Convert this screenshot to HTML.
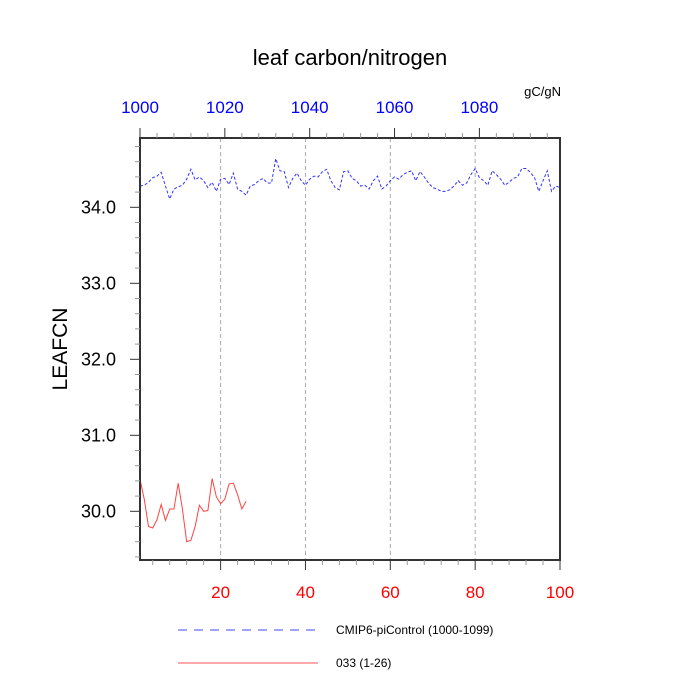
<!DOCTYPE html>
<html><head><meta charset="utf-8"><style>
body{margin:0;background:#fff}
svg{display:block;font-family:"Liberation Sans",sans-serif}
</style></head><body>
<svg id="chart" width="700" height="700">
<text x="350" y="65" text-anchor="middle" font-size="22">leaf carbon/nitrogen</text>
<text x="561" y="96" text-anchor="end" font-size="13">gC/gN</text>
<text x="67" y="349" text-anchor="middle" font-size="21" transform="rotate(-90 67 349)">LEAFCN</text>
<g id="grid"></g><g id="series"></g><g id="axes"></g>
<g>
<line x1="178" y1="630" x2="318" y2="630" stroke="#44f" stroke-dasharray="9,7"/>
<text x="336" y="634" font-size="12">CMIP6-piControl (1000-1099)</text>
<line x1="178" y1="663" x2="318" y2="663" stroke="#f55"/>
<text x="336" y="667" font-size="12">033 (1-26)</text>
</g>
</svg>
<script>
const ctrlValues=[34.28,34.29,34.33,34.39,34.41,34.46,34.28,34.11,34.24,34.27,34.29,34.37,34.50,34.36,34.40,34.35,34.26,34.33,34.21,34.37,34.38,34.30,34.45,34.24,34.21,34.16,34.28,34.30,34.35,34.38,34.32,34.32,34.64,34.48,34.47,34.26,34.38,34.45,34.35,34.29,34.37,34.41,34.40,34.47,34.50,34.35,34.26,34.23,34.47,34.48,34.38,34.35,34.28,34.29,34.24,34.35,34.41,34.24,34.28,34.35,34.40,34.37,34.43,34.46,34.48,34.35,34.47,34.40,34.32,34.26,34.24,34.21,34.21,34.23,34.28,34.35,34.29,34.32,34.43,34.51,34.39,34.35,34.29,34.48,34.43,34.37,34.29,34.33,34.38,34.40,34.51,34.51,34.46,34.39,34.21,34.35,34.48,34.21,34.28,34.26];
const runValues=[30.42,30.16,29.80,29.78,29.89,30.09,29.88,30.03,30.03,30.37,30.03,29.60,29.62,29.80,30.08,30.00,30.01,30.43,30.19,30.10,30.16,30.36,30.37,30.22,30.03,30.13];
const bottomTicks=[20,40,60,80,100];
const topTicks=[1000,1020,1040,1060,1080];
const yTicks=[30,31,32,33,34];
const L=140,R=560,T=138,B=560;
const x=i=>L+(i-1)*(R-L)/99;
const y=v=>207.3-(v-34)*76;
const NS="http://www.w3.org/2000/svg";
function mk(tag,parent,attrs){const e=document.createElementNS(NS,tag);for(const k in attrs)e.setAttribute(k,attrs[k]);document.getElementById(parent).appendChild(e);return e;}
bottomTicks.slice(0,4).forEach(t=>{
 const g=mk('line','grid',{x1:x(t),x2:x(t),y1:T,y2:B,stroke:'#aaa','stroke-dasharray':'4,3'});
 
 
});
const ax=mk('rect','axes',{x:L,y:T,width:R-L,height:B-T,fill:'none',stroke:'#333','stroke-width':2});


for(let v=29.4;v<=34.9;v+=0.2){const vv=Math.round(v*10)/10;const major=Math.abs(vv-Math.round(vv))<1e-6;
 const t=mk('line','axes',{x1:L,x2:L-(major?10:5),y1:y(vv),y2:y(vv),stroke:major?'#333':'#999'});
 
 }
yTicks.forEach(v=>{const t=mk('text','axes',{x:116,y:y(v)+6,'text-anchor':'end','font-size':18});t.textContent=v.toFixed(1);
 
 });
for(let i=4;i<=100;i+=4){const major=i%20==0;
 const t=mk('line','axes',{x1:x(i),x2:x(i),y1:B,y2:B+(major?10:5),stroke:major?'#333':'#999'});
 
 }
bottomTicks.forEach(v=>{const t=mk('text','axes',{x:x(v),y:598,'text-anchor':'middle','font-size':17,fill:'red'});t.textContent=v;
 
 });
for(let yr=1000;yr<1100;yr+=4){const major=yr%20==0;const px=L+(yr-1000)*(R-L)/99;
 const t=mk('line','axes',{x1:px,x2:px,y1:T,y2:T-(major?10:5),stroke:major?'#333':'#999'});
 
 }
topTicks.forEach(v=>{const t=mk('text','axes',{x:L+(v-1000)*(R-L)/99,y:113,'text-anchor':'middle','font-size':17,fill:'blue'});t.textContent=v;
 
 });
const p1=mk('polyline','series',{points:ctrlValues.map((v,i)=>x(i+1)+','+y(v)).join(' '),fill:'none',stroke:'#33f','stroke-dasharray':'3,2'});


const p2=mk('polyline','series',{points:runValues.map((v,i)=>x(i+1)+','+y(v)).join(' '),fill:'none',stroke:'#f44'});


</script>
</body></html>
